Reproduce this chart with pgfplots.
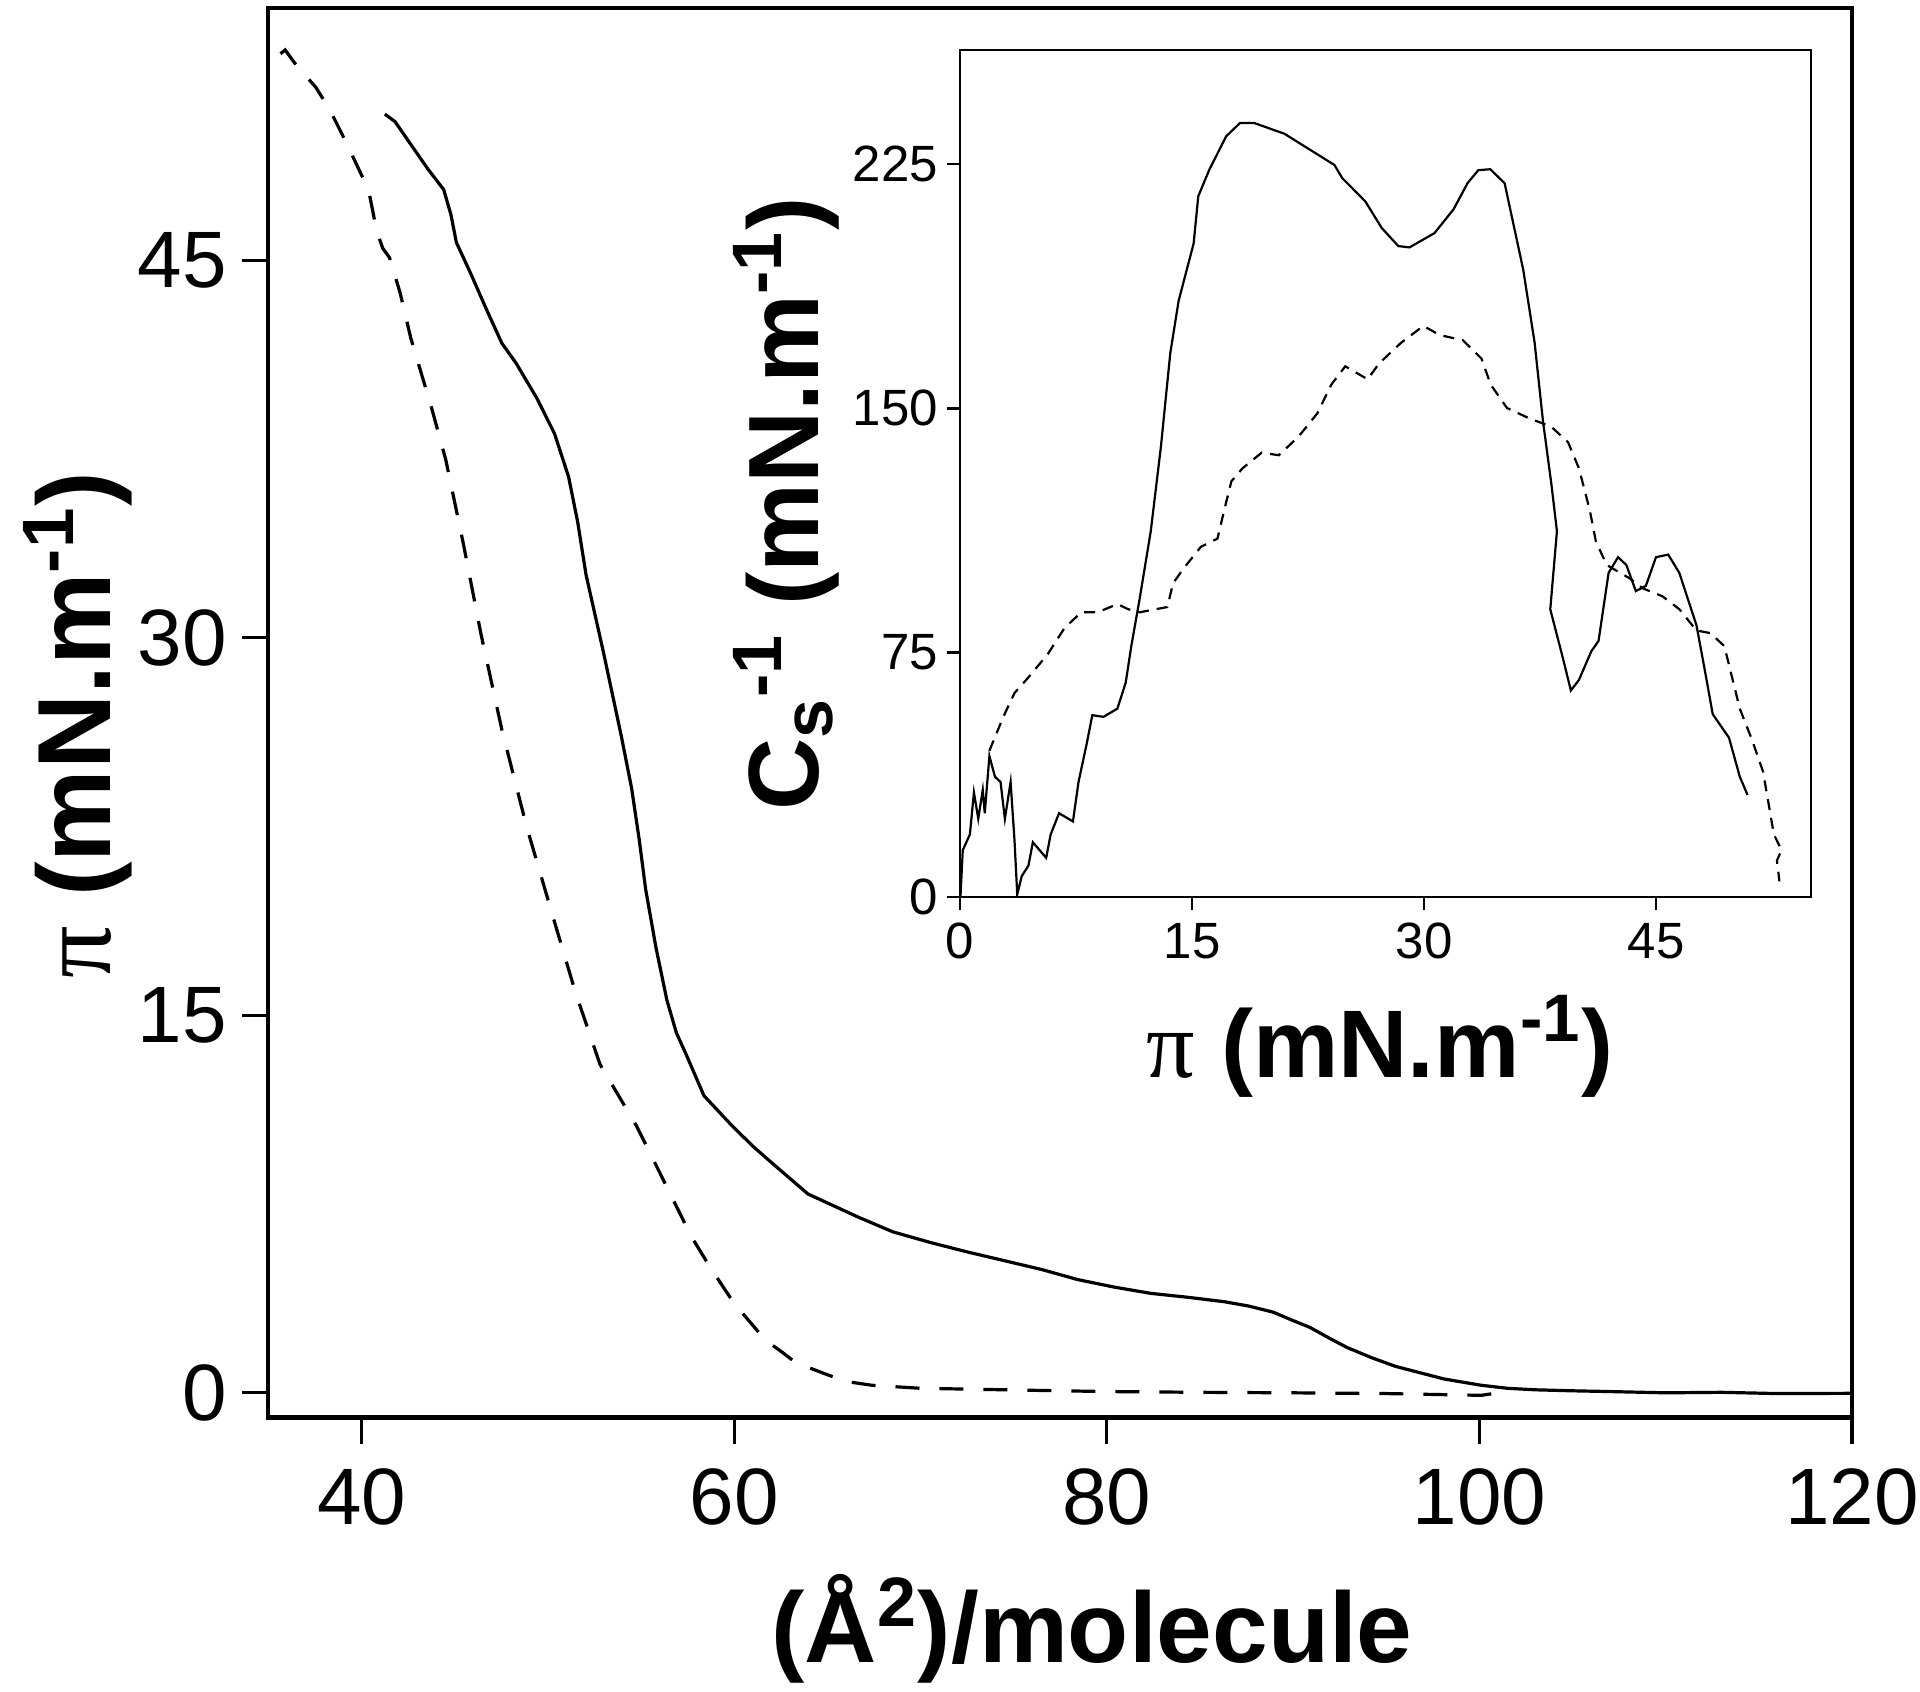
\documentclass[border=0pt]{standalone}
\usepackage{fontspec}
\setmainfont{Liberation Sans}
\newfontfamily\grk{Liberation Serif}
\usepackage{pgfplots}
\pgfplotsset{compat=1.18}
\begin{document}
\begin{tikzpicture}
\path[use as bounding box] (0,0) rectangle (480pt,423pt);
% ---------- main isotherm ----------
\begin{axis}[
 at={(67.1pt,68.5pt)}, anchor=south west,
 width=395.9pt, height=352.4pt, scale only axis,
 xmin=35, xmax=120, ymin=-1, ymax=55,
 xtick={40,60,80,100,120}, ytick={0,15,30,45},
 tick align=outside, xtick pos=left, ytick pos=left,
 major tick length=6.5pt,
 every tick/.style={black, line width=0.8pt},
 axis line style={line width=1pt},
 /pgf/number format/assume math mode=true,
 ticklabel style={font=\fontsize{20}{20}\selectfont},
 xticklabel style={inner sep=0pt, yshift=-6pt},
 yticklabel style={inner sep=0pt, xshift=-3.75pt},
]
\draw[line width=1.4pt] (rel axis cs:0,0) -- (rel axis cs:1,0);
\addplot[black, line width=0.8pt] coordinates {
(41.25,50.8) (41.8,50.5) (42.64,49.6) (43.58,48.6) (44.41,47.8) (44.8,46.8)
(45.09,45.7) (45.84,44.5) (46.67,43.1) (47.53,41.7) (48.3,40.9) (49.42,39.5)
(50.36,38.1) (51.11,36.4) (51.6,34.6) (52.05,32.5) (52.99,29.4) (53.94,26.1)
(54.5,24.0) (54.9,22.0) (55.25,20.0) (55.8,17.7) (56.39,15.6) (56.9,14.3)
(57.39,13.5) (58.38,11.8) (59.9,10.6) (61.0,9.8) (62.0,9.15) (63.96,7.9)
(66.6,7.0) (68.5,6.4) (70.54,5.97) (72.5,5.6) (74.5,5.25) (76.5,4.9)
(78.43,4.5) (80.4,4.2) (82.37,3.95) (84.3,3.8) (86.3,3.62) (87.6,3.45)
(88.95,3.2) (89.9,2.9) (90.9,2.6) (92.0,2.15) (92.9,1.8) (94.2,1.4)
(95.5,1.05) (96.8,0.8) (98.1,0.55) (100.1,0.3) (101.5,0.18) (103,0.12)
(105,0.08) (107,0.05) (110,0.0) (113,0.02) (116,-0.03) (120,-0.02)
};
\addplot[black, line width=0.8pt, dash pattern=on 6pt off 5pt] coordinates {
(35.65,53.2) (35.9,53.35) (36.4,52.84) (37.55,51.86) (38.3,50.97) (39.25,49.56)
(40.38,47.78) (40.8,46.2) (41.13,45.48) (41.5,45.1) (42.07,43.7) (42.64,41.91)
(43.77,39.1) (44.52,37.07) (45.46,33.75) (46.4,30.18) (47.53,26.35) (48.85,22.52)
(50.36,18.7) (51.49,15.89) (52.8,13.05) (54.76,10.6) (56.4,8.16) (57.7,6.21)
(58.7,5.0) (60.0,3.55) (61.05,2.64) (61.67,2.1) (62.6,1.6) (63.3,1.2)
(65.0,0.72) (66.0,0.45) (67.4,0.3) (70,0.18) (72.3,0.15) (76,0.1)
(80,0.05) (85,0.02) (90,0.0) (95,-0.03) (100.1,-0.1) (101,0.0)
};
\end{axis}
% ---------- inset: compressional modulus ----------
\begin{axis}[
 at={(240pt,198.75pt)}, anchor=south west,
 width=212.75pt, height=211.75pt, scale only axis,
 xmin=0, xmax=55, ymin=0, ymax=260,
 xtick={0,15,30,45}, ytick={0,75,150,225},
 tick align=outside, xtick pos=left, ytick pos=left,
 major tick length=3.3pt,
 every tick/.style={black, line width=0.6pt},
 axis line style={line width=0.65pt},
 /pgf/number format/assume math mode=true,
 ticklabel style={font=\fontsize{12.75}{13}\selectfont},
 xticklabel style={inner sep=0pt, yshift=-3pt},
 yticklabel style={inner sep=0pt, xshift=-2pt},
]
\addplot[black, line width=0.55pt] coordinates {
(0.03,0) (0.18,14.4) (0.64,19.2) (0.9,32.1) (1.18,24.0) (1.47,32.9) (1.6,25.7)
(1.9,43.3) (2.26,36.9) (2.62,35.3) (2.9,24.0) (3.27,35.3) (3.52,17.6) (3.7,0.8)
(3.99,6.4) (4.42,9.6) (4.71,16.8) (5.14,14.4) (5.57,12.0) (5.86,19.2) (6.4,25.7)
(7.3,23.2) (7.66,35.3) (8.2,47.3) (8.55,55.8) (9.27,55.3) (10.17,57.8) (10.71,65.8)
(11.07,77.0) (11.61,91.5) (12.33,112.3) (12.98,138.0) (13.59,166.9) (14.13,183.0)
(15.1,200.6) (15.4,215.1) (16.1,223.1) (17.2,233.5) (18.1,237.6) (19.0,237.6)
(20.96,234.3) (22.04,231.1) (24.2,224.7) (24.7,220.7) (26.2,213.5) (27.25,205.4)
(28.33,199.8) (29.05,199.4) (30.67,203.8) (31.9,211.1) (32.8,219.1) (33.5,223.1)
(34.27,223.4) (35.2,219.1) (36.4,192.6) (37.14,170.1) (37.68,146.0) (38.22,126.8)
(38.58,112.3) (38.15,88.3) (38.94,73.8) (39.48,63.4) (40.0,66.6) (40.8,75.4)
(41.27,78.6) (41.92,99.5) (42.53,104.3) (43.07,101.9) (43.68,93.9) (44.33,95.5)
(44.98,104.3) (45.77,105.1) (46.49,99.5) (47.6,83.4) (48.1,70.6) (48.65,56.1)
(49.7,48.9) (50.4,36.9) (50.9,31.3)
};
\addplot[black, line width=0.55pt, dash pattern=on 2.75pt off 2pt] coordinates {
(1.9,44.9) (2.8,55.3) (3.52,62.6) (4.42,67.4) (5.68,74.6) (6.76,82.6) (7.84,87.4)
(8.9,87.4) (10.17,89.9) (10.89,88.3) (11.61,87.4) (13.4,89.0) (13.77,96.3)
(14.49,101.1) (15.57,107.5) (16.64,110.0) (17.08,118.8) (17.54,127.6) (18.26,131.6)
(19.5,136.4) (20.6,135.6) (21.86,141.2) (23.1,148.5) (24.0,157.3) (24.9,162.9)
(26.35,158.9) (27.07,163.7) (28.5,170.1) (29.95,175.3) (31.0,172.5) (32.5,170.9)
(33.7,165.3) (34.3,157.3) (35.35,150.1) (36.8,146.9) (38.2,144.4) (39.3,139.6)
(40.0,131.6) (40.7,118.8) (41.1,109.1) (41.8,101.9) (43.25,97.9) (44.15,94.7)
(45.4,92.3) (46.5,88.3) (47.6,81.8) (48.5,81.0) (49.4,77.0) (49.9,67.4)
(50.4,57.8) (51.2,48.1) (51.9,38.5) (52.25,28.9) (52.6,19.2) (53.1,14.4)
(52.8,11.2) (52.96,4.8)
};
\end{axis}
% ---------- axis titles ----------
\node[anchor=base, font=\fontsize{25}{30}\selectfont\bfseries] at (273pt,7.25pt)
  {(Å\textsuperscript{2})/molecule};
\node[anchor=base, rotate=90, font=\fontsize{26}{30}\selectfont\bfseries] at (27.5pt,241.75pt)
  {{\grk\mdseries π} (mN.m\textsuperscript{-1})};
\node[anchor=base, font=\fontsize{24}{28}\selectfont\bfseries] at (345pt,153.5pt)
  {{\grk\mdseries π} (mN.m\textsuperscript{-1})};
\node[anchor=base, rotate=90, font=\fontsize{25}{30}\selectfont\bfseries] at (204.5pt,297pt)
  {C\textsubscript{s}\textsuperscript{-1} (mN.m\textsuperscript{-1})};
\end{tikzpicture}
\end{document}
